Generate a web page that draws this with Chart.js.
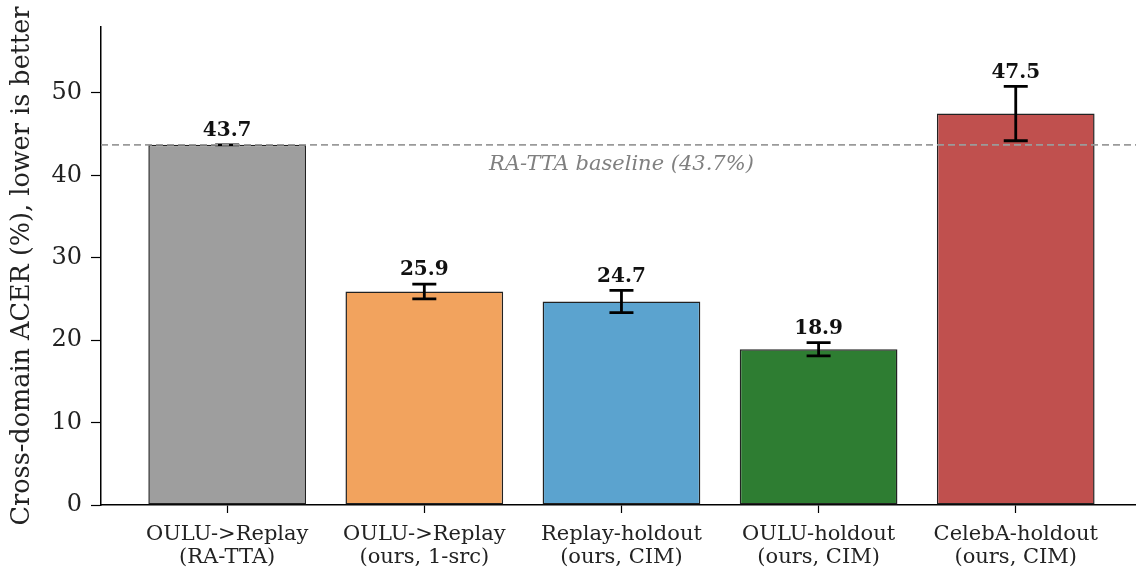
<!DOCTYPE html>
<html>
<head>
<meta charset="utf-8">
<script src="https://cdn.jsdelivr.net/npm/chart.js@4"></script>
<style>
  html, body { margin: 0; padding: 0; background: #fff; }
  #wrap { width: 1136px; height: 576px; }
</style>
</head>
<body>
<div id="wrap"><canvas id="myChart"></canvas></div>
<script>
const categories = [
  ['OULU->Replay', '(RA-TTA)'],
  ['OULU->Replay', '(ours, 1-src)'],
  ['Replay-holdout', '(ours, CIM)'],
  ['OULU-holdout', '(ours, CIM)'],
  ['CelebA-holdout', '(ours, CIM)']
];
const acer = [43.7, 25.9, 24.7, 18.9, 47.5];
const acerErr = [0, 0.9, 1.35, 0.8, 3.3];
const barColors = ['#9e9e9e', '#f2a35e', '#5ba3cf', '#2e7d32', '#c0504e'];
const baseline = 43.7;
const baselineLabel = 'RA-TTA baseline (43.7%)';
const yTicks = [0, 10, 20, 30, 40, 50];

const serif = "'DejaVu Serif', serif";

// error bars, value labels and the baseline line
const extras = {
  id: 'extras',
  afterDatasetsDraw(chart) {
    const c = chart.ctx;
    const x = chart.scales.x, y = chart.scales.y;
    const area = chart.chartArea;
    c.save();
    acer.forEach((v, i) => {
      const px = x.getPixelForValue(i);
      const top = y.getPixelForValue(v + acerErr[i]);
      const bot = y.getPixelForValue(v - acerErr[i]);
      c.strokeStyle = '#000';
      c.lineWidth = 2.8;
      c.beginPath();
      c.moveTo(px, top); c.lineTo(px, bot);
      c.moveTo(px - 12, top); c.lineTo(px + 12, top);
      c.moveTo(px - 12, bot); c.lineTo(px + 12, bot);
      c.stroke();
      c.fillStyle = '#111';
      c.font = 'bold 20px ' + serif;
      c.textAlign = 'center';
      c.textBaseline = 'bottom';
      c.fillText(v.toFixed(1), px, top - 4);
    });
    // baseline
    const by = y.getPixelForValue(baseline);
    c.strokeStyle = '#9a9a9a';
    c.lineWidth = 1.6;
    c.setLineDash([7, 4]);
    c.beginPath();
    c.moveTo(area.left, by); c.lineTo(area.right, by);
    c.stroke();
    c.setLineDash([]);
    c.fillStyle = '#808080';
    c.font = 'italic 21px ' + serif;
    c.textAlign = 'center';
    c.textBaseline = 'middle';
    c.fillText(baselineLabel, x.getPixelForValue(2), by + 20);
    c.restore();
  }
};

new Chart(document.getElementById('myChart'), {
  type: 'bar',
  data: {
    datasets: [{
      data: acer.map((v, i) => ({ x: i, y: v })),
      backgroundColor: barColors,
      borderColor: '#222',
      borderWidth: 1.5,
      borderSkipped: false,
      barPercentage: 1,
      categoryPercentage: 0.8
    }]
  },
  options: {
    responsive: true,
    maintainAspectRatio: false,
    animation: false,
    devicePixelRatio: 1,
    layout: { padding: { top: 27, right: 0, left: 0, bottom: 0 } },
    plugins: { legend: { display: false }, tooltip: { enabled: false } },
    scales: {
      x: {
        type: 'linear',
        offset: false,
        min: -0.64,
        max: 4.61,
        afterBuildTicks(axis) { axis.ticks = [0, 1, 2, 3, 4].map(v => ({ value: v })); },
        afterFit(axis) { axis.height = 71; },
        grid: { offset: false, drawOnChartArea: false, drawTicks: true, tickLength: 8, tickWidth: 1.2, tickColor: '#000' },
        border: { color: '#000', width: 1.5 },
        ticks: {
          autoSkip: false,
          maxRotation: 0,
          padding: 10,
          color: '#222',
          font: { family: serif, size: 21, lineHeight: 1.1 },
          callback: v => categories[v]
        }
      },
      y: {
        min: 0,
        max: 58,
        afterBuildTicks(axis) { axis.ticks = yTicks.map(v => ({ value: v })); },
        afterFit(axis) { axis.width = 101; },
        grid: { drawOnChartArea: false, drawTicks: true, tickLength: 10, tickWidth: 1.2, tickColor: '#000' },
        border: { color: '#000', width: 1.5 },
        ticks: {
          padding: 9,
          color: '#222',
          font: { family: serif, size: 24 }
        },
        title: {
          display: true,
          text: 'Cross-domain ACER (%), lower is better',
          color: '#222',
          font: { family: serif, size: 25.5 },
          padding: { top: 7, bottom: 0 }
        }
      }
    }
  },
  plugins: [extras]
});
</script>
</body>
</html>
